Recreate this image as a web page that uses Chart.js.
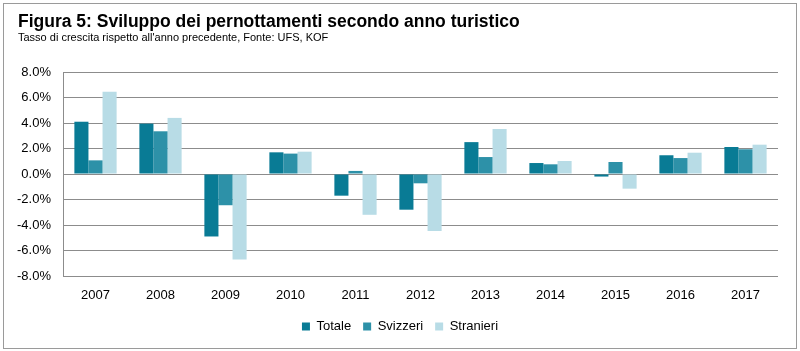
<!DOCTYPE html>
<html>
<head>
<meta charset="utf-8">
<script src="https://cdn.jsdelivr.net/npm/chart.js@4"></script>
<style>
  body { margin: 0; background: #fff; }
  #wrap { position: relative; width: 800px; height: 351px; }
  #frame { position: absolute; left: 3px; top: 3px; width: 792px; height: 344px; border: 1px solid #9a9a9a; pointer-events: none; }
</style>
</head>
<body>
<div id="wrap">
  <canvas id="chart" width="800" height="351"></canvas>
  <div id="frame"></div>
</div>
<script>
// Chart data
const years = ['2007', '2008', '2009', '2010', '2011', '2012', '2013', '2014', '2015', '2016', '2017'];
const totale = [4.1, 3.95, -4.9, 1.7, -1.7, -2.8, 2.5, 0.86, -0.2, 1.47, 2.12];
const svizzeri = [1.07, 3.35, -2.45, 1.6, 0.24, -0.73, 1.33, 0.76, 0.94, 1.25, 1.94];
const stranieri = [6.45, 4.4, -6.7, 1.75, -3.2, -4.47, 3.53, 1.02, -1.15, 1.67, 2.3];
const yTicks = [-8, -6, -4, -2, 0, 2, 4, 6, 8];

const titleText = 'Figura 5: Sviluppo dei pernottamenti secondo anno turistico';
const subtitleText = "Tasso di crescita rispetto all'anno precedente, Fonte: UFS, KOF";

const FONT = '"Liberation Sans", Arial, sans-serif';

// draws the heading texts at fixed spots above the plot
const headingPlugin = {
  id: 'heading',
  afterLayout(chart) {
    // center the legend on the whole canvas, not just the padded area
    if (chart.legend) {
      chart.legend.left = 0;
      chart.legend.right = chart.width;
      chart.legend.width = chart.width;
    }
  },
  afterDraw(chart) {
    const ctx = chart.ctx;
    ctx.save();
    ctx.fillStyle = '#000';
    ctx.textBaseline = 'alphabetic';
    ctx.textAlign = 'left';
    ctx.font = 'bold 17.5px ' + FONT;
    ctx.fillText(titleText, 18, 27);
    ctx.font = '11px ' + FONT;
    ctx.fillText(subtitleText, 18, 41);
    ctx.restore();
  }
};

new Chart(document.getElementById('chart'), {
  type: 'bar',
  data: {
    labels: years,
    datasets: [
      { label: 'Totale', data: totale, backgroundColor: '#097b95' },
      { label: 'Svizzeri', data: svizzeri, backgroundColor: '#2d91a8' },
      { label: 'Stranieri', data: stranieri, backgroundColor: '#b8dce6' }
    ]
  },
  options: {
    responsive: false,
    animation: false,
    layout: { padding: { left: 0, right: 22, top: 72, bottom: 8 } },
    datasets: { bar: { categoryPercentage: 0.65, barPercentage: 1.0 } },
    plugins: {
      legend: {
        position: 'bottom',
        labels: {
          boxWidth: 8,
          boxHeight: 8,
          padding: 12,
          color: '#000',
          font: { family: FONT, size: 13 }
        }
      },
      tooltip: { enabled: false }
    },
    scales: {
      x: {
        grid: { display: false, drawTicks: false },
        border: { display: false },
        ticks: { color: '#000', padding: 12, font: { family: FONT, size: 13 } },
        afterFit: s => { s.height = 32; }
      },
      y: {
        min: -8,
        max: 8,
        afterBuildTicks: s => { s.ticks = yTicks.map(v => ({ value: v })); },
        grid: { color: '#8c8c8c', lineWidth: 1, drawTicks: false },
        border: { display: true, color: '#8c8c8c' },
        ticks: {
          color: '#000',
          padding: 12,
          font: { family: FONT, size: 13 },
          callback: v => v.toFixed(1) + '%'
        },
        afterFit: s => { s.width = 63; }
      }
    }
  },
  plugins: [headingPlugin]
});
</script>
</body>
</html>
